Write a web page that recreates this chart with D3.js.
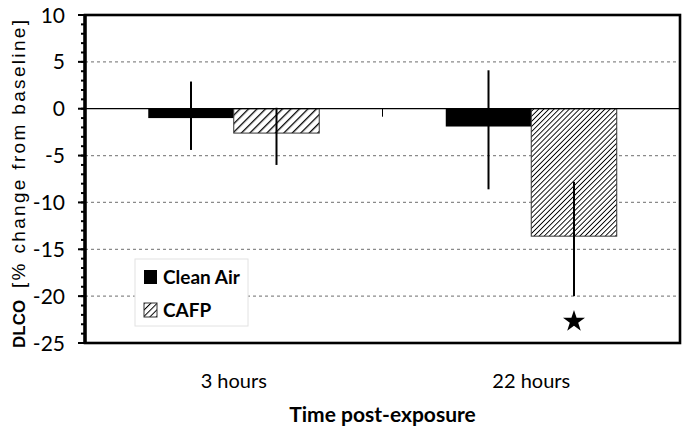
<!DOCTYPE html>
<html>
<head>
<meta charset="utf-8">
<script src="https://cdn.jsdelivr.net/npm/d3@7"></script>
<style>
  body { margin: 0; background: #fff; }
  text { font-family: Lato, "Open Sans", sans-serif; fill: #000; }
</style>
</head>
<body>
<div id="chart"></div>
<script>
// data
const categories = ['3 hours', '22 hours'];
const series = ['Clean Air', 'CAFP'];
const cleanAir = [-1.0, -1.9];
const cafp = [-2.6, -13.6];
const cleanAirErr = [[-4.4, 2.9], [-8.6, 4.1]];   // [low, high]
const cafpErr = [[-6.0, 0.1], [-20.0, -7.8]];
const starAt = [{cat: '22 hours', series: 'CAFP', y: -22.7}];
const yTicks = [10, 5, 0, -5, -10, -15, -20, -25];

const W = 685, H = 435;
const m = {t: 15, r: 5, b: 92, l: 85};

const svg = d3.select('#chart').append('svg')
  .attr('width', W).attr('height', H);

const defs = svg.append('defs');
function hatch(id, step, sw){
  const p = defs.append('pattern')
    .attr('id', id)
    .attr('patternUnits', 'userSpaceOnUse')
    .attr('width', step).attr('height', step)
    .attr('patternTransform', 'rotate(45)');
  p.append('rect').attr('width', step).attr('height', step).attr('fill', '#fff');
  p.append('line')
    .attr('x1', 0).attr('y1', 0).attr('x2', 0).attr('y2', step)
    .attr('stroke', '#000').attr('stroke-width', sw);
}
hatch('hatchA', 6, 2.6);
hatch('hatchB', 3.6, 1.8);
hatch('hatchL', 4.5, 2);

const x0 = d3.scaleBand().domain(categories).range([m.l, W - m.r]);
const x1 = d3.scaleBand().domain(series).range([0, x0.bandwidth()]).paddingOuter(0.74);
const y = d3.scaleLinear().domain([-25, 10]).range([H - m.b, m.t]);

// gridlines
svg.append('g')
  .selectAll('line')
  .data(yTicks.filter(d => d !== 0 && d !== 10 && d !== -25))
  .join('line')
  .attr('x1', m.l).attr('x2', W - m.r)
  .attr('y1', d => y(d)).attr('y2', d => y(d))
  .attr('stroke', '#8a8a8a').attr('stroke-width', 1.2)
  .attr('stroke-dasharray', '3,3');

// bars
const rows = categories.map((c, i) => ({
  cat: c,
  vals: [
    {s: 'Clean Air', v: cleanAir[i], e: cleanAirErr[i]},
    {s: 'CAFP', v: cafp[i], e: cafpErr[i]}
  ]
}));

const groups = svg.append('g').selectAll('g')
  .data(rows)
  .join('g')
  .attr('transform', d => `translate(${x0(d.cat)},0)`);

groups.selectAll('rect')
  .data((d, i) => d.vals.map(v => Object.assign({gi: i}, v)))
  .join('rect')
  .attr('x', d => x1(d.s))
  .attr('width', x1.bandwidth())
  .attr('y', d => y(Math.max(0, d.v)))
  .attr('height', d => Math.abs(y(d.v) - y(0)))
  .attr('fill', d => d.s === 'Clean Air' ? '#000' : (d.gi === 0 ? 'url(#hatchA)' : 'url(#hatchB)'))
  .attr('stroke', d => d.s === 'Clean Air' ? 'none' : '#333')
  .attr('stroke-width', 1);

// zero line + category tick
svg.append('line')
  .attr('x1', m.l).attr('x2', W - m.r)
  .attr('y1', y(0)).attr('y2', y(0))
  .attr('stroke', '#000').attr('stroke-width', 1.3);
svg.append('line')
  .attr('x1', x0('22 hours')).attr('x2', x0('22 hours'))
  .attr('y1', y(0)).attr('y2', y(0) + 8)
  .attr('stroke', '#000').attr('stroke-width', 1);

// error bars
groups.selectAll('line.err')
  .data(d => d.vals)
  .join('line')
  .attr('class', 'err')
  .attr('x1', d => x1(d.s) + x1.bandwidth() / 2)
  .attr('x2', d => x1(d.s) + x1.bandwidth() / 2)
  .attr('y1', d => y(d.e[1]))
  .attr('y2', d => y(d.e[0]))
  .attr('stroke', '#000').attr('stroke-width', 2);

// significance star
svg.selectAll('path.star')
  .data(starAt)
  .join('path')
  .attr('class', 'star')
  .attr('d', d3.symbol().type(d3.symbolStar).size(150))
  .attr('transform', d => `translate(${x0(d.cat) + x1(d.series) + x1.bandwidth() / 2},${y(d.y)})`)
  .attr('fill', '#000');

// y axis with major + minor ticks
const yAxis = svg.append('g').attr('transform', `translate(${m.l},0)`);
yAxis.selectAll('line.minor')
  .data(d3.range(-25, 11, 1))
  .join('line')
  .attr('class', 'minor')
  .attr('x1', -4).attr('x2', 0)
  .attr('y1', d => y(d)).attr('y2', d => y(d))
  .attr('stroke', '#000').attr('stroke-width', 2);
yAxis.selectAll('line.major')
  .data(yTicks)
  .join('line')
  .attr('class', 'major')
  .attr('x1', -7).attr('x2', 0)
  .attr('y1', d => y(d)).attr('y2', d => y(d))
  .attr('stroke', '#000').attr('stroke-width', 2);
yAxis.selectAll('text')
  .data(yTicks)
  .join('text')
  .attr('x', -20)
  .attr('y', d => y(d))
  .attr('dy', '0.36em')
  .attr('text-anchor', 'end')
  .style('font-size', '21px')
  .text(d => d);

// frame
svg.append('rect')
  .attr('x', m.l).attr('y', m.t)
  .attr('width', W - m.r - m.l).attr('height', H - m.b - m.t)
  .attr('fill', 'none').attr('stroke', '#000').attr('stroke-width', 2.6);
svg.append('line')
  .attr('x1', m.l).attr('x2', m.l)
  .attr('y1', m.t - 1).attr('y2', H - m.b + 1)
  .attr('stroke', '#000').attr('stroke-width', 3.4);

// x labels
svg.selectAll('text.xlab')
  .data(categories)
  .join('text')
  .attr('class', 'xlab')
  .attr('x', d => x0(d) + x0.bandwidth() / 2)
  .attr('y', 388)
  .attr('text-anchor', 'middle')
  .style('font-size', '20px')
  .text(d => d);

svg.append('text')
  .attr('x', (m.l + W - m.r) / 2)
  .attr('y', 422)
  .attr('text-anchor', 'middle')
  .style('font-size', '21px')
  .style('font-weight', 'bold')
  .text('Time post-exposure');

// y title
const yt = svg.append('g').attr('transform', 'translate(25,0) rotate(-90)');
yt.append('text')
  .attr('x', -348).attr('y', 0)
  .style('font-family', '"Liberation Sans", Arial, sans-serif')
  .style('font-weight', 'bold')
  .style('font-size', '17px')
  .text('DLCO');
yt.append('text')
  .attr('x', -288).attr('y', 0)
  .attr('textLength', 268)
  .attr('lengthAdjust', 'spacing')
  .style('font-family', '"Liberation Sans", Arial, sans-serif')
  .style('font-size', '19px')
  .text('[% change from baseline]');

// legend
const lg = svg.append('g').attr('transform', 'translate(135,259)');
lg.append('rect')
  .attr('width', 113).attr('height', 67)
  .attr('fill', '#fff').attr('stroke', '#e2e2e2').attr('stroke-width', 1);
const li = lg.selectAll('g')
  .data(series)
  .join('g')
  .attr('transform', (d, i) => `translate(9,${11 + i * 33})`);
li.append('rect')
  .attr('width', 13).attr('height', 14)
  .attr('fill', d => d === 'Clean Air' ? '#000' : 'url(#hatchL)')
  .attr('stroke', d => d === 'Clean Air' ? 'none' : '#333');
li.append('text')
  .attr('x', 19).attr('y', 14)
  .style('font-size', '19px')
  .style('font-weight', 'bold')
  .text(d => d);
</script>
</body>
</html>
